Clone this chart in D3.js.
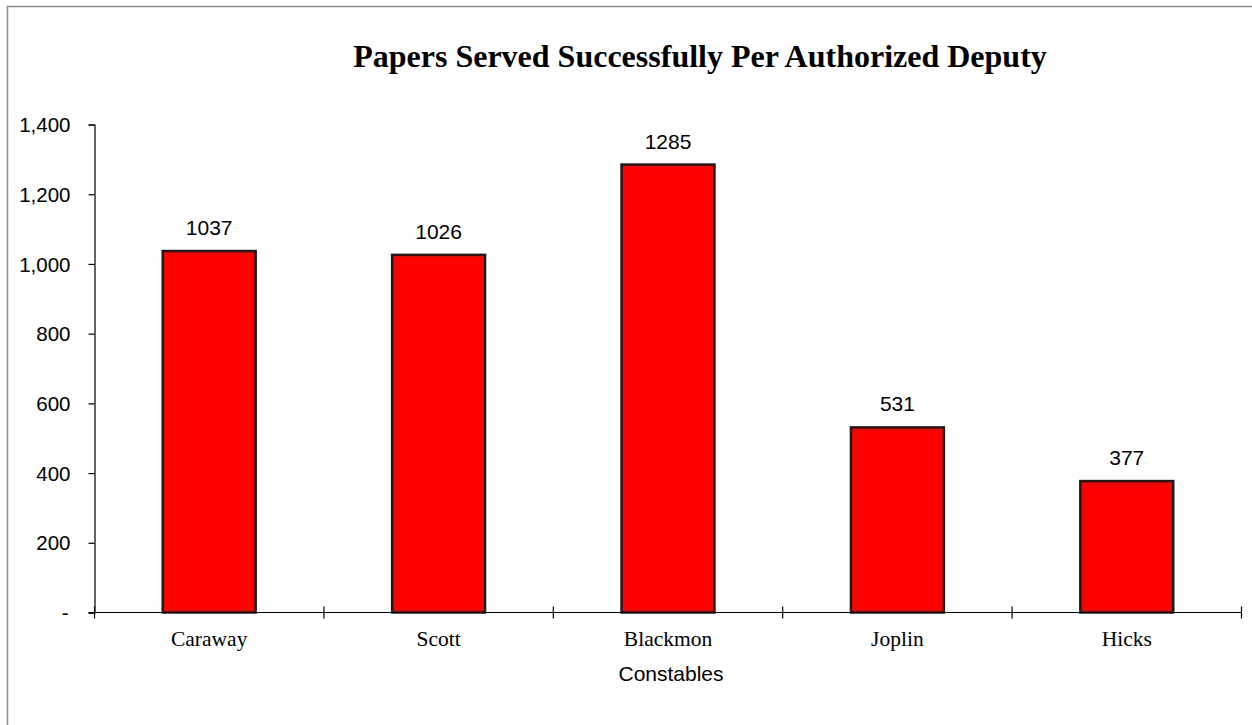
<!DOCTYPE html>
<html><head><meta charset="utf-8">
<script src="https://cdn.jsdelivr.net/npm/d3@7"></script>
<style>body{margin:0;background:#fff}svg{display:block}</style>
</head><body>
<svg id="c" width="1252" height="725"></svg>
<script>
const categories = ["Caraway","Scott","Blackmon","Joplin","Hicks"];
const values = [1037,1026,1285,531,377];
const yTicks = [0,200,400,600,800,1000,1200,1400];
const title = "Papers Served Successfully Per Authorized Deputy";
const xTitle = "Constables";

const svg = d3.select("#c");
svg.append("rect").attr("x",7.5).attr("y",6.5).attr("width",1260).attr("height",730)
  .attr("fill","none").attr("stroke","#8c8c8c").attr("stroke-width",1.5);

const L=94.5, R=1241.5, T=124.5, B=612.5;
const x = d3.scaleBand().domain(categories).range([L,R]).paddingInner(0).paddingOuter(0);
const y = d3.scaleLinear().domain([0,1400]).range([B,T]);

svg.append("text").attr("x",700).attr("y",67).attr("text-anchor","middle")
  .attr("font-family","'Liberation Serif','Times New Roman',serif").attr("font-weight","bold")
  .attr("font-size",32).attr("fill","#000").text(title);

// y axis
const ya = svg.append("g").attr("transform",`translate(${L},0)`)
  .call(d3.axisLeft(y).tickValues(yTicks).tickSize(6).tickPadding(0)
    .tickFormat(d=> d===0 ? "-" : d3.format(",")(d)));
ya.select(".domain").attr("stroke","#000").attr("stroke-width",1.2);
ya.selectAll(".tick line").attr("stroke","#000").attr("stroke-width",1.2);
ya.selectAll(".tick text").attr("font-family","'Liberation Sans',Arial,sans-serif")
  .attr("font-size",20.5).attr("fill","#000").attr("x",-24).attr("dy","0.35em")
  .attr("dx", d=> d===0 ? -2 : 0);

// bars
const bw = x.bandwidth()*0.405;
svg.append("g").selectAll("rect").data(values).join("rect")
  .attr("x",(d,i)=> x(categories[i]) + x.bandwidth()/2 - bw/2)
  .attr("y",d=>y(d)).attr("width",bw).attr("height",d=>B-y(d))
  .attr("fill","#ff0000").attr("stroke","#1a1a1a").attr("stroke-width",2.5);

// value labels
svg.append("g").selectAll("text").data(values).join("text")
  .attr("x",(d,i)=> x(categories[i]) + x.bandwidth()/2)
  .attr("y",d=>y(d)-16).attr("text-anchor","middle")
  .attr("font-family","'Liberation Sans',Arial,sans-serif").attr("font-size",21)
  .attr("fill","#000").text(d=>d);

// x axis
const xa = svg.append("g").attr("transform",`translate(0,${B})`);
xa.append("line").attr("x1",L-6).attr("x2",R).attr("y1",0).attr("y2",0).attr("stroke","#000").attr("stroke-width",1.2);
const bounds = categories.map(c=>x(c)).concat([R]);
xa.selectAll("line.t").data(bounds).join("line").attr("class","t")
  .attr("x1",d=>d).attr("x2",d=>d).attr("y1",-6).attr("y2",6).attr("stroke","#000").attr("stroke-width",1.2);
xa.selectAll("text").data(categories).join("text")
  .attr("x",d=>x(d)+x.bandwidth()/2).attr("y",33.5).attr("text-anchor","middle")
  .attr("font-family","'Liberation Serif','Times New Roman',serif").attr("font-size",21.5)
  .attr("fill","#000").text(d=>d);

svg.append("text").attr("x",671).attr("y",681).attr("text-anchor","middle")
  .attr("font-family","'Liberation Sans',Arial,sans-serif").attr("font-size",21)
  .attr("fill","#000").text(xTitle);
</script>
</body></html>
